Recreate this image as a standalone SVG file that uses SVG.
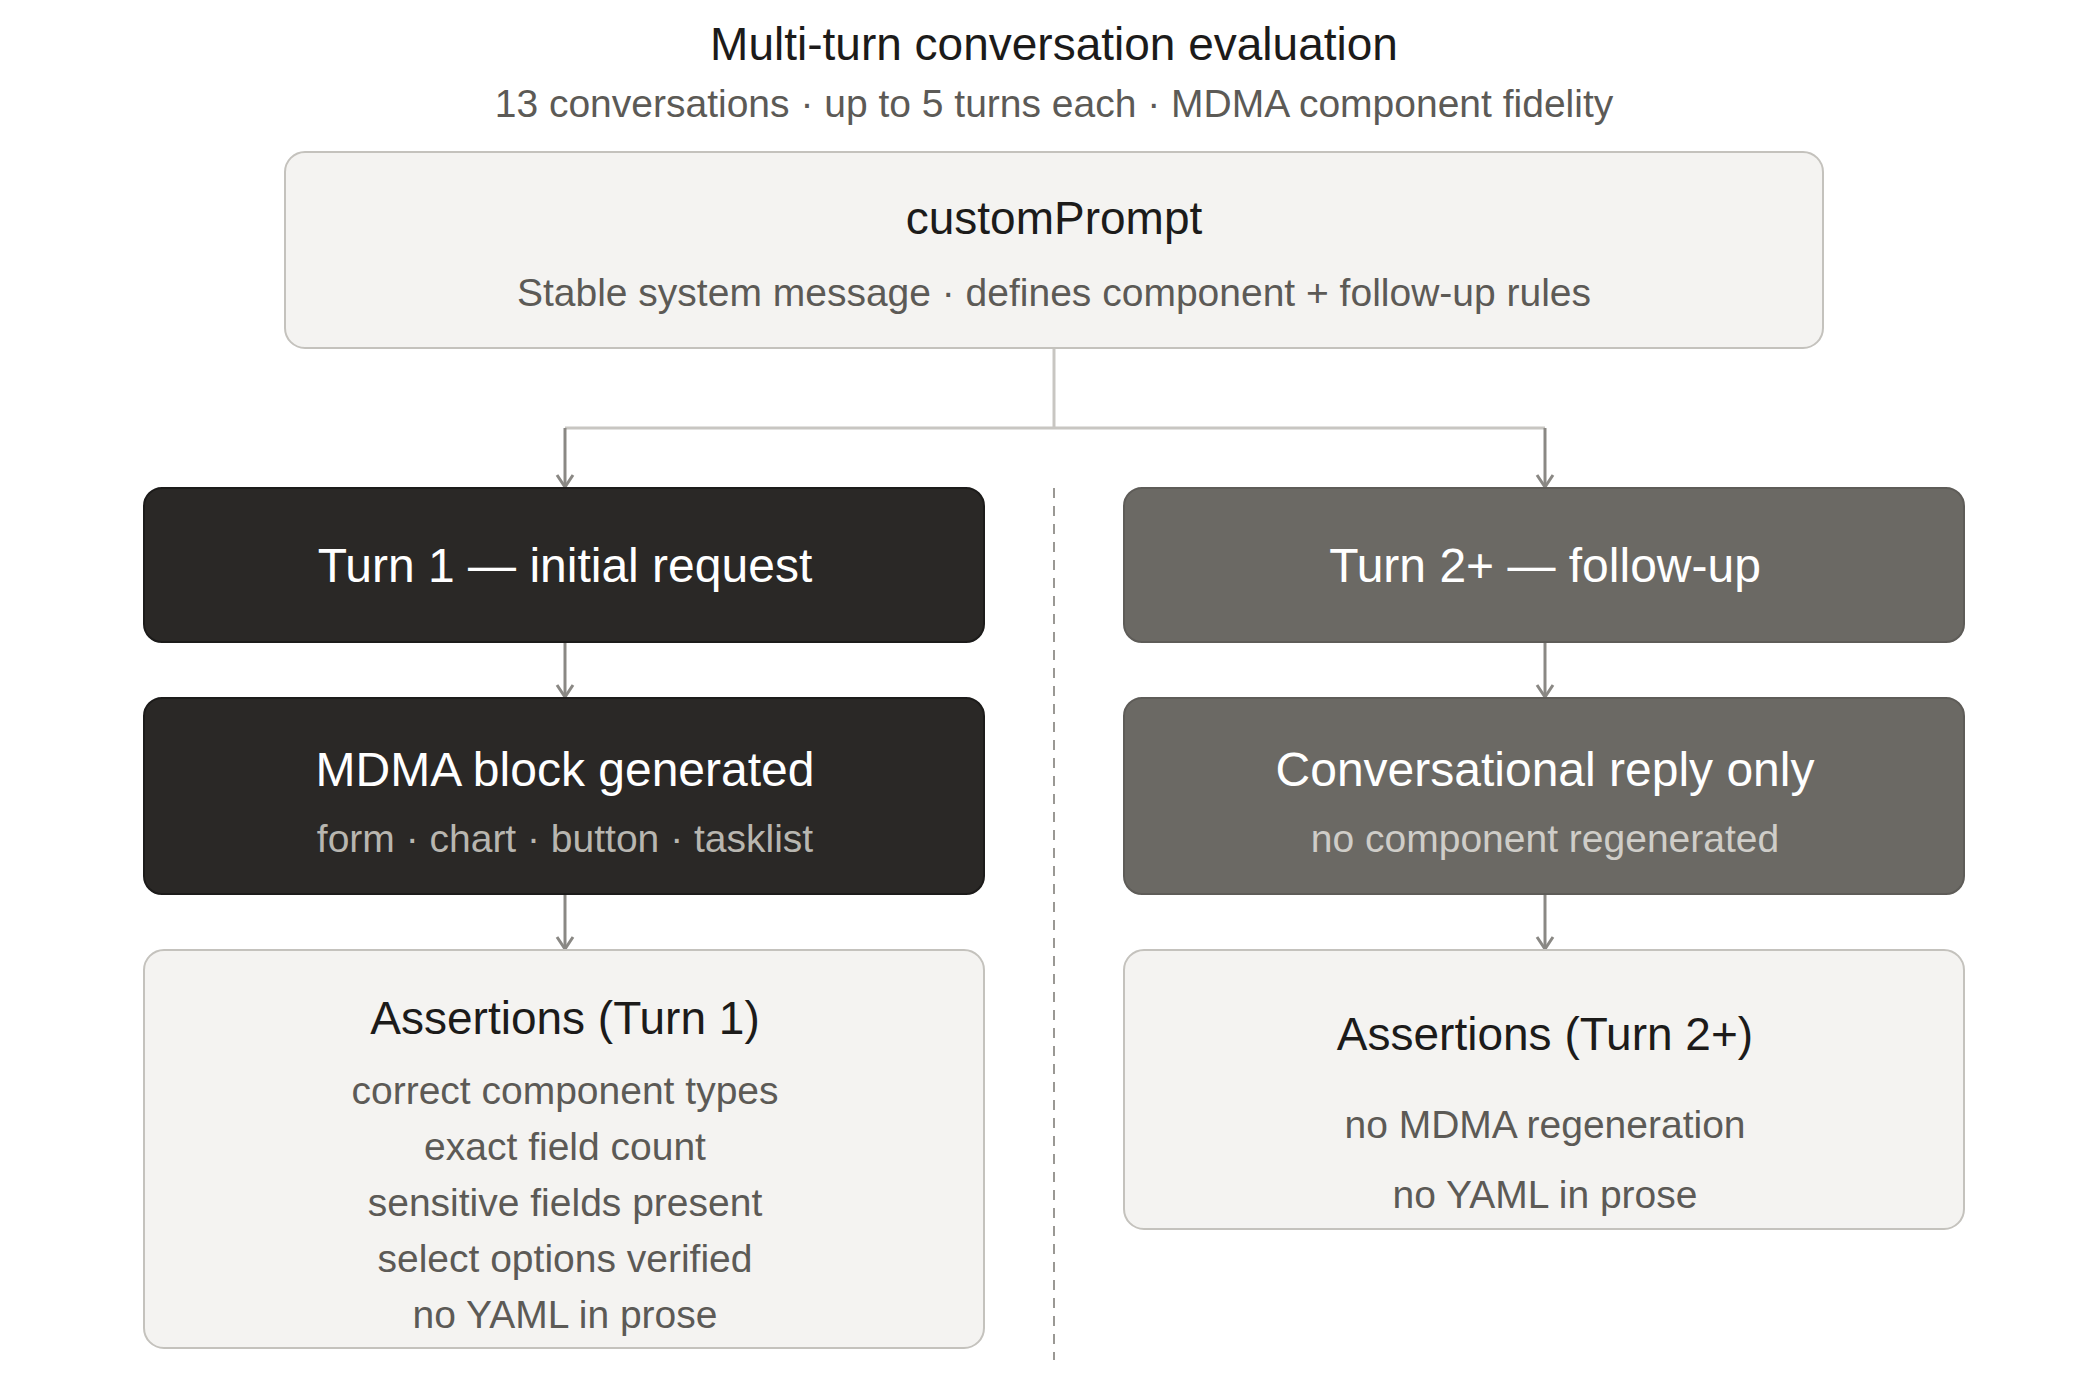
<svg xmlns="http://www.w3.org/2000/svg" width="2092" height="1400" viewBox="0 0 2092 1400">
<defs>
<style>
text{font-family:"Liberation Sans",Arial,sans-serif;text-anchor:middle;dominant-baseline:central}
.light{fill:#f4f3f1;stroke:#c4c2bd;stroke-width:2}
.dark{fill:#2a2826;stroke:#1c1b1a;stroke-width:2}
.mid{fill:#6b6964;stroke:#5e5c58;stroke-width:2}
.t{font-size:46px;fill:#1c1b1a}
.s{font-size:39px;fill:#5c5a56}
.w{font-size:48px;fill:#ffffff}
.conn{stroke:#8a8884;stroke-width:3;fill:none}
</style>
<marker id="ah" viewBox="0 0 20 20" refX="18" refY="10" markerWidth="20" markerHeight="20" markerUnits="userSpaceOnUse" orient="auto">
<path d="M6 2 L18 10 L6 18" fill="none" stroke="#8a8884" stroke-width="3"/>
</marker>
</defs>
<rect width="2092" height="1400" fill="#ffffff"/>
<g id="title">
<text x="1054" y="44" style="font-size:46px;fill:#1c1b1a">Multi-turn conversation evaluation</text>
<text x="1054" y="103" class="s">13 conversations · up to 5 turns each · MDMA component fidelity</text>
</g>
<g id="connectors">
<path d="M1054 348 V428" stroke="#c8c6c2" stroke-width="3" fill="none"/>
<path d="M565 428 H1545" stroke="#c8c6c2" stroke-width="3" fill="none"/>
<path class="conn" d="M565 428 V487" marker-end="url(#ah)"/>
<path class="conn" d="M1545 428 V487" marker-end="url(#ah)"/>
<path class="conn" d="M565 642 V697" marker-end="url(#ah)"/>
<path class="conn" d="M1545 642 V697" marker-end="url(#ah)"/>
<path class="conn" d="M565 894 V949" marker-end="url(#ah)"/>
<path class="conn" d="M1545 894 V949" marker-end="url(#ah)"/>
<path d="M1054 488 V1360" stroke="#9a9894" stroke-width="2" stroke-dasharray="10 8" fill="none"/>
</g>
<g id="customPrompt">
<rect class="light" x="285" y="152" width="1538" height="196" rx="20"/>
<text x="1054" y="218" class="t">customPrompt</text>
<text x="1054" y="292" class="s">Stable system message · defines component + follow-up rules</text>
</g>
<g id="turn1">
<rect class="dark" x="144" y="488" width="840" height="154" rx="18"/>
<text x="565" y="565" class="w">Turn 1 — initial request</text>
</g>
<g id="turn2">
<rect class="mid" x="1124" y="488" width="840" height="154" rx="18"/>
<text x="1545" y="565" class="w">Turn 2+ — follow-up</text>
</g>
<g id="mdma">
<rect class="dark" x="144" y="698" width="840" height="196" rx="18"/>
<text x="565" y="769" class="w">MDMA block generated</text>
<text x="565" y="838" class="s" style="fill:#b8b6b0">form · chart · button · tasklist</text>
</g>
<g id="reply">
<rect class="mid" x="1124" y="698" width="840" height="196" rx="18"/>
<text x="1545" y="769" class="w">Conversational reply only</text>
<text x="1545" y="838" class="s" style="fill:#cfcdc8">no component regenerated</text>
</g>
<g id="assert1">
<rect class="light" x="144" y="950" width="840" height="398" rx="20"/>
<text x="565" y="1018" class="t">Assertions (Turn 1)</text>
<text x="565" y="1090" class="s">correct component types</text>
<text x="565" y="1146" class="s">exact field count</text>
<text x="565" y="1202" class="s">sensitive fields present</text>
<text x="565" y="1258" class="s">select options verified</text>
<text x="565" y="1314" class="s">no YAML in prose</text>
</g>
<g id="assert2">
<rect class="light" x="1124" y="950" width="840" height="279" rx="20"/>
<text x="1545" y="1034" class="t">Assertions (Turn 2+)</text>
<text x="1545" y="1124" class="s">no MDMA regeneration</text>
<text x="1545" y="1194" class="s">no YAML in prose</text>
</g>
</svg>
